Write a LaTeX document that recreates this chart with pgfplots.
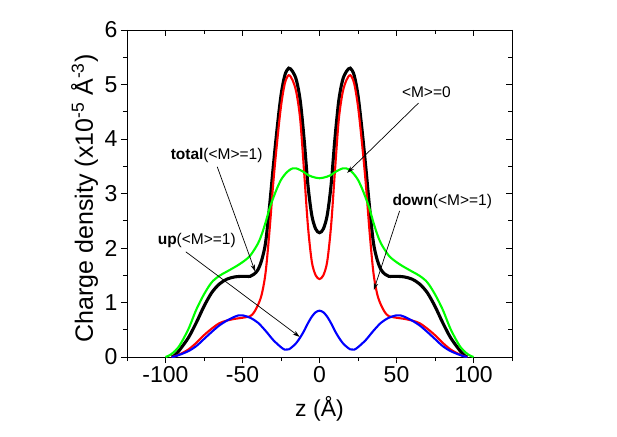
\documentclass[border=0pt]{standalone}
\usepackage{pgfplots}
\pgfplotsset{compat=1.18}
\usepackage{pgfplotstable}
\usepackage{fontspec}
\setmainfont{Liberation Sans}
\usetikzlibrary{arrows.meta}

% spin-down (red)
\pgfplotstableread{
z y
-96 0
-94 0.012
-92 0.035
-90 0.06
-85 0.14
-80 0.26
-75 0.40
-70 0.52
-65 0.62
-60 0.67
-55 0.70
-50 0.72
-45 0.75
-42.5 0.82
-40 0.95
-37.5 1.15
-35 1.55
-32.5 2.3
-30 3.2
-27.5 3.95
-25 4.6
-22.5 5.02
-20 5.17
-17.5 5.08
-15 4.85
-12.5 4.35
-10 3.4
-7.5 2.4
-5 1.75
-2.5 1.5
0 1.43
2.5 1.5
5 1.75
7.5 2.4
10 3.4
12.5 4.35
15 4.85
17.5 5.08
20 5.17
22.5 5.02
25 4.6
27.5 3.95
30 3.2
32.5 2.3
35 1.55
37.5 1.15
40 0.95
42.5 0.82
45 0.75
50 0.72
55 0.70
60 0.67
65 0.62
70 0.52
75 0.40
80 0.26
85 0.14
90 0.06
92 0.035
94 0.012
96 0
}\downdata

% spin-up (blue)
\pgfplotstableread{
z y
-96 0
-94 0.01
-92 0.03
-90 0.05
-85 0.11
-80 0.20
-75 0.33
-70 0.46
-65 0.58
-60 0.67
-55 0.74
-52.5 0.765
-50 0.765
-45 0.72
-40 0.63
-35 0.48
-30 0.31
-25 0.18
-22.5 0.135
-20 0.14
-17.5 0.19
-15 0.26
-12.5 0.36
-10 0.48
-7.5 0.62
-5 0.74
-2.5 0.82
0 0.85
2.5 0.82
5 0.74
7.5 0.62
10 0.48
12.5 0.36
15 0.26
17.5 0.19
20 0.14
22.5 0.135
25 0.18
30 0.31
35 0.48
40 0.63
45 0.72
50 0.765
52.5 0.765
55 0.74
60 0.67
65 0.58
70 0.46
75 0.33
80 0.20
85 0.11
90 0.05
92 0.03
94 0.01
96 0
}\updata

% total, <M>=1 (black)
\pgfplotstableread{
z y
-96 0
-94 0.03
-92 0.09
-90 0.16
-85 0.36
-80 0.63
-75 0.93
-70 1.18
-65 1.34
-60 1.43
-55 1.47
-50 1.48
-45 1.48
-42.5 1.52
-40 1.6
-37.5 1.78
-35 2.1
-32.5 2.75
-30 3.5
-27.5 4.2
-25 4.8
-22.5 5.17
-20 5.3
-17.5 5.24
-15 5.08
-12.5 4.7
-10 4.0
-7.5 3.15
-5 2.6
-2.5 2.35
0 2.28
2.5 2.35
5 2.6
7.5 3.15
10 4.0
12.5 4.7
15 5.08
17.5 5.24
20 5.3
22.5 5.17
25 4.8
27.5 4.2
30 3.5
32.5 2.75
35 2.1
37.5 1.78
40 1.6
42.5 1.52
45 1.48
50 1.48
55 1.47
60 1.43
65 1.34
70 1.18
75 0.93
80 0.63
85 0.36
90 0.16
92 0.09
94 0.03
96 0
}\totaldata

% <M>=0 (green)
\pgfplotstableread{
z y
-100 0
-97.5 0.03
-95 0.08
-92.5 0.15
-90 0.25
-85 0.52
-80 0.87
-75 1.15
-70 1.37
-65 1.49
-60 1.57
-55 1.65
-50 1.74
-45 1.86
-40 2.08
-37.5 2.25
-35 2.47
-32.5 2.72
-30 2.92
-27.5 3.1
-25 3.25
-22.5 3.35
-20 3.42
-17.5 3.46
-15 3.46
-12.5 3.43
-10 3.39
-7.5 3.34
-5 3.31
-2.5 3.29
0 3.28
2.5 3.29
5 3.31
7.5 3.34
10 3.39
12.5 3.43
15 3.46
17.5 3.46
20 3.42
22.5 3.35
25 3.25
27.5 3.1
30 2.92
32.5 2.72
35 2.47
37.5 2.25
40 2.08
45 1.86
50 1.74
55 1.65
60 1.57
65 1.49
70 1.37
75 1.15
80 0.87
85 0.52
90 0.25
92.5 0.15
95 0.08
97.5 0.03
100 0
}\zerodata

\begin{document}
\begin{tikzpicture}
  \pgfplotsset{
    common/.style={
      scale only axis,
      width=385pt, height=327pt,
      xmin=-125, xmax=125,
      ymin=0, ymax=6,
      xtick={-100,-50,0,50,100},
      minor xtick={-125,-75,-25,25,75,125},
      ytick={0,1,2,3,4,5,6},
      minor ytick={0.5,1.5,2.5,3.5,4.5,5.5},
      major tick length=6pt,
      minor tick length=4pt,
      every tick/.style={black, line width=0.8pt},
      every minor tick/.style={black, line width=0.8pt},
      axis line style={line width=0.8pt},
    },
  }
  % top and right ticks point inward
  \begin{axis}[common, tick align=inside, tick pos=right,
      xticklabels={}, yticklabels={}]
  \end{axis}
  \begin{axis}[common, name=ax, tick align=outside, tick pos=left,
      /pgf/number format/assume math mode=true,
      tick label style={font=\fontsize{23}{26}\selectfont},
      label style={font=\fontsize{23}{26}\selectfont},
      xlabel={z (Å)},
      ylabel={Charge density (x10\textsuperscript{-5} Å\textsuperscript{-3})},
      xlabel style={at={(axis description cs:0.5,-0.158)}, anchor=center},
      ylabel style={at={(axis description cs:-0.11,0.485)}, anchor=center,
        font=\fontsize{25}{28}\selectfont},
    ]
    \addplot[black, line width=3.1pt, smooth] table {\totaldata};
    \addplot[red, line width=2.1pt, smooth] table {\downdata};
    \addplot[blue, line width=2.1pt, smooth] table {\updata};
    \addplot[green, line width=2.1pt, smooth] table {\zerodata};

    % labels and arrows
    \begin{scope}[font=\fontsize{15.5}{18}\selectfont]
      \node at (axis cs:69.4,4.86) {<M>=0};
      \node at (axis cs:79.7,2.86) {\textbf{down}(<M>=1)};
      \node at (axis cs:-66.8,3.69) {\textbf{total}(<M>=1)};
      \node at (axis cs:-79.7,2.13) {\textbf{up}(<M>=1)};
    \end{scope}
    \begin{scope}[line width=0.7pt, -{Stealth[length=7pt,width=4.5pt]}]
      \draw (axis cs:64.3,4.66) -- (axis cs:18,3.38);
      \draw (axis cs:52,2.68) -- (axis cs:35.3,1.23);
      \draw (axis cs:-66.4,3.49) -- (axis cs:-41.8,1.57);
      \draw (axis cs:-86.8,1.93) -- (axis cs:-12.9,0.37);
    \end{scope}
  \end{axis}
  \pgfresetboundingbox
  \path (ax.south west) ++(-127pt,-79pt) rectangle ++(617pt,436pt);
\end{tikzpicture}
\end{document}
